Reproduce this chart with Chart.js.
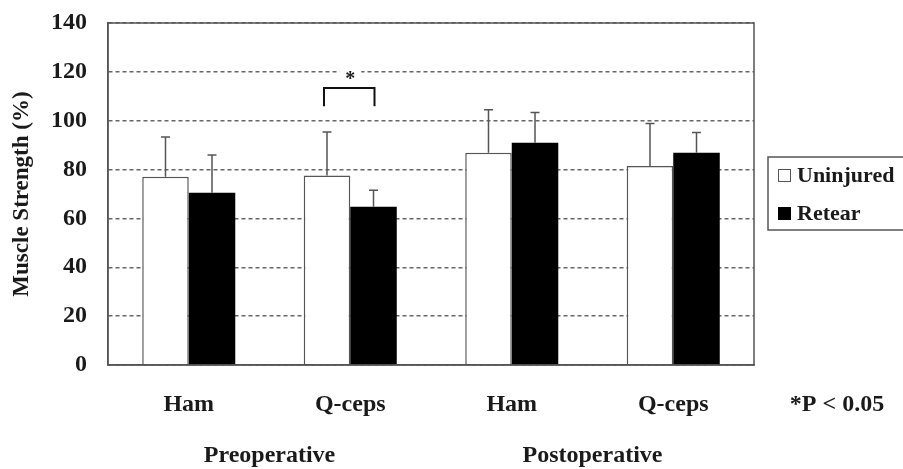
<!DOCTYPE html>
<html>
<head>
<meta charset="utf-8">
<script src="https://cdn.jsdelivr.net/npm/chart.js@4/dist/chart.umd.min.js"></script>
<style>
  html, body { margin: 0; padding: 0; background: #fff; }
  #wrap { width: 903px; height: 469px; position: relative; }
</style>
</head>
<body>
<div id="wrap"><canvas id="c" width="903" height="469"></canvas></div>
<script>
// ---- data ----
const categories = ['Ham', 'Q-ceps', 'Ham', 'Q-ceps'];
const phases = ['Preoperative', 'Postoperative'];
const seriesNames = ['Uninjured', 'Retear'];
const uninjured = [77.1, 77.6, 86.9, 81.5];
const uninjuredSD = [16.2, 17.8, 17.6, 17.4];
const retear = [70.5, 64.8, 91.0, 86.9];
const retearSD = [15.5, 6.7, 12.4, 8.3];
const yMin = 0, yMax = 140, yStep = 20;
const yTitle = 'Muscle Strength (%)';
const sigNote = '*P < 0.05';
const sigIndex = 1;           // Q-ceps preoperative
const sigBracketValue = 113.4; // bracket level
const sigLegValue = 105.9;
const sigStarValue = 117.5;

const FONT = '"Liberation Serif", "Times New Roman", serif';
const TXT = '#1a1a1a';
const LINE = '#555';

const errorBars = {
  id: 'errorBars',
  afterDatasetsDraw(chart) {
    const ctx = chart.ctx;
    const ys = chart.scales.y;
    const sds = [uninjuredSD, retearSD];
    ctx.save();
    ctx.strokeStyle = LINE;
    ctx.lineWidth = 1.5;
    chart.data.datasets.forEach((ds, di) => {
      const meta = chart.getDatasetMeta(di);
      meta.data.forEach((bar, i) => {
        const top = ys.getPixelForValue(ds.data[i] + sds[di][i]);
        ctx.beginPath();
        ctx.moveTo(bar.x, bar.y);
        ctx.lineTo(bar.x, top);
        ctx.moveTo(bar.x - 4.5, top);
        ctx.lineTo(bar.x + 4.5, top);
        ctx.stroke();
      });
    });
    // frame
    const a = chart.chartArea;
    ctx.strokeStyle = LINE;
    ctx.lineWidth = 1.5;
    ctx.strokeRect(a.left, a.top, a.right - a.left, a.bottom - a.top);
    // significance bracket
    const b0 = chart.getDatasetMeta(0).data[sigIndex];
    const b1 = chart.getDatasetMeta(1).data[sigIndex];
    const yb = ys.getPixelForValue(sigBracketValue);
    const yl = ys.getPixelForValue(sigLegValue);
    const ysr = ys.getPixelForValue(sigStarValue);
    ctx.strokeStyle = '#111';
    ctx.lineWidth = 2;
    ctx.beginPath();
    ctx.moveTo(b0.x - 3, yl);
    ctx.lineTo(b0.x - 3, yb);
    ctx.lineTo(b1.x + 1, yb);
    ctx.lineTo(b1.x + 1, yl);
    ctx.stroke();
    const sx = (b0.x + b1.x) / 2;
    ctx.fillStyle = '#fff';
    ctx.fillRect(sx - 11, ysr - 12, 22, 18);
    ctx.fillStyle = TXT;
    ctx.font = 'bold 20px ' + FONT;
    ctx.textAlign = 'center';
    ctx.textBaseline = 'middle';
    ctx.fillText('*', sx, ysr + 2);
    ctx.restore();
  },
  afterDraw(chart) {
    const ctx = chart.ctx;
    const xs = chart.scales.x;
    ctx.save();
    // p-value note
    ctx.fillStyle = TXT;
    ctx.font = 'bold 24px ' + FONT;
    ctx.textAlign = 'center';
    ctx.textBaseline = 'middle';
    ctx.fillText(sigNote, 837, xs.top + 40);
    // legend
    ctx.strokeStyle = LINE;
    ctx.lineWidth = 1.5;
    ctx.strokeRect(768, 157, 140, 73);
    const fills = ['#fff', '#000'];
    const rowsY = [176, 214];
    ctx.font = 'bold 22px ' + FONT;
    ctx.textAlign = 'left';
    chart.data.datasets.forEach((ds, i) => {
      ctx.fillStyle = fills[i];
      ctx.fillRect(778, rowsY[i] - 7, 13, 13);
      ctx.strokeStyle = i === 0 ? LINE : '#000';
      ctx.lineWidth = 1;
      ctx.strokeRect(778.5, rowsY[i] - 6.5, 12, 12);
      ctx.fillStyle = TXT;
      ctx.fillText(ds.label, 797, rowsY[i]);
    });
    ctx.restore();
  }
};

new Chart(document.getElementById('c'), {
  type: 'bar',
  data: {
    labels: categories,
    datasets: [
      { label: seriesNames[0], data: uninjured, backgroundColor: '#fff', borderColor: LINE, borderWidth: 1.5, borderSkipped: 'bottom' },
      { label: seriesNames[1], data: retear, backgroundColor: '#000', borderColor: '#000', borderWidth: 0 }
    ]
  },
  options: {
    responsive: false,
    animation: false,
    events: [],
    layout: { padding: { top: 23, right: 149, left: 0, bottom: 0 } },
    datasets: { bar: { categoryPercentage: 0.576, barPercentage: 1 } },
    plugins: { legend: { display: false }, tooltip: { enabled: false }, title: { display: false } },
    scales: {
      x: {
        type: 'category',
        offset: true,
        grid: { display: false, drawTicks: false },
        border: { display: true, color: LINE, width: 1.5 },
        ticks: { color: TXT, padding: 25, font: { family: FONT, size: 24, weight: 'bold' }, maxRotation: 0 },
        afterFit(s) { s.height = 60; }
      },
      x2: {
        type: 'category',
        position: 'bottom',
        labels: phases,
        offset: true,
        grid: { display: false, drawTicks: false },
        border: { display: false },
        ticks: { color: TXT, padding: 16, font: { family: FONT, size: 24, weight: 'bold' }, maxRotation: 0 },
        afterFit(s) { s.height = 44; }
      },
      y: {
        min: yMin, max: yMax,
        ticks: { stepSize: yStep, color: TXT, padding: 21, font: { family: FONT, size: 24, weight: 'bold' } },
        grid: { color: '#666', lineWidth: 1.5, drawTicks: false },
        border: { display: true, color: LINE, width: 1.5, dash: [4, 3] },
        title: { display: true, text: yTitle, color: TXT, padding: { top: 8, bottom: 0 }, font: { family: FONT, size: 23, weight: 'bold' } },
        afterFit(s) { s.width = 108; s.paddingTop = 10; s.paddingBottom = 10; }
      }
    }
  },
  plugins: [errorBars]
});
</script>
</body>
</html>
